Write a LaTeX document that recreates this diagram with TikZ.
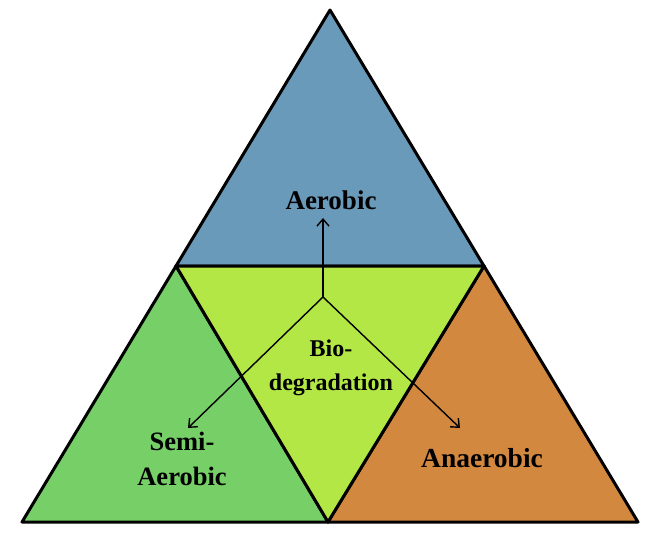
\documentclass[tikz,border=0pt]{standalone}
\usepackage{fontspec}
\setmainfont{Liberation Serif}
\usetikzlibrary{arrows.meta}
\definecolor{cTop}{HTML}{6A9AB9}
\definecolor{cMid}{HTML}{B3E746}
\definecolor{cLeft}{HTML}{76CF67}
\definecolor{cRight}{HTML}{D3883F}
\begin{document}
\begin{tikzpicture}[x=1pt,y=-1pt,
  tri/.style={draw=black,line width=3pt,line join=round},
  lbl/.style={align=center,inner sep=0pt,anchor=base},
  arr/.style={draw=black,line width=1.4pt,-{Straight Barb[length=7pt,width=12pt,line width=1.4pt]}}]
\useasboundingbox (0,0) rectangle (651,539);
\coordinate (A) at (330,10);
\coordinate (L) at (22,522);
\coordinate (R) at (638,522);
\coordinate (ML) at (176,266);
\coordinate (MR) at (484,266);
\coordinate (MB) at (328,522);
\filldraw[tri,fill=cTop] (A) -- (ML) -- (MR) -- cycle;
\filldraw[tri,fill=cLeft] (ML) -- (L) -- (MB) -- cycle;
\filldraw[tri,fill=cRight] (MR) -- (MB) -- (R) -- cycle;
\filldraw[tri,fill=cMid] (ML) -- (MR) -- (MB) -- cycle;
\coordinate (J) at (323,297);
\coordinate (TA) at (323,218);
\coordinate (TL) at (188,428);
\coordinate (TR) at (460,428);
\draw[arr] (J) -- (TA);
\draw[arr] (J) -- (TL);
\draw[arr] (J) -- (TR);
\node[lbl,font=\fontsize{27}{34}\selectfont\bfseries] (aer) at (331,209) {Aerobic};
\node[lbl,font=\fontsize{24}{34}\selectfont\bfseries] (bio) at (331,390) {Bio-\\degradation};
\node[lbl,font=\fontsize{26.5}{35}\selectfont\bfseries] (semi) at (182,485) {Semi-\\Aerobic};
\node[lbl,font=\fontsize{27.5}{34}\selectfont\bfseries] (ana) at (482,467) {Anaerobic};
\end{tikzpicture}
\end{document}
